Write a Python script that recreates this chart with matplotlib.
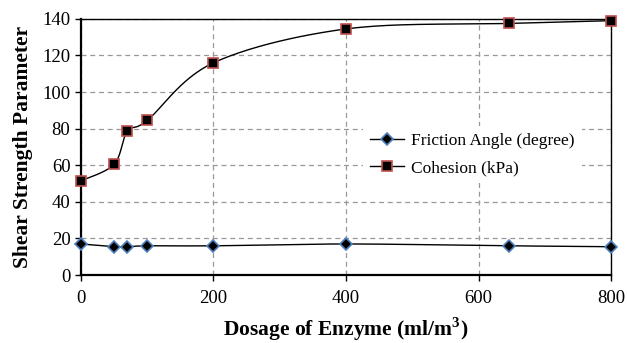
import numpy as np
import matplotlib
matplotlib.use("Agg")
import matplotlib.pyplot as plt
from matplotlib.lines import Line2D

dosage = [0, 50, 70, 100, 200, 400, 645, 800]
friction = [17, 15.5, 15.5, 16, 16, 17, 16, 15.5]
cohesion = [51.5, 60.5, 78.5, 84.5, 116, 134.5, 137.5, 139]
xticks = [0, 200, 400, 600, 800]
yticks = [0, 20, 40, 60, 80, 100, 120, 140]

plt.rcParams['font.family'] = ['Liberation Serif', 'DejaVu Serif']


def smooth(x, y, n=40, t=0.5):
    """Excel-like smoothed curve (Catmull-Rom style Bezier) for drawing the line."""
    x = np.asarray(x, float)
    y = np.asarray(y, float)
    xs, ys = [], []
    for i in range(len(x) - 1):
        p0 = np.array([x[max(i - 1, 0)], y[max(i - 1, 0)]])
        p1 = np.array([x[i], y[i]])
        p2 = np.array([x[i + 1], y[i + 1]])
        p3 = np.array([x[min(i + 2, len(x) - 1)], y[min(i + 2, len(x) - 1)]])
        c1 = p1 + (p2 - p0) * t / 3
        c2 = p2 - (p3 - p1) * t / 3
        s = np.linspace(0, 1, n)[:, None]
        pts = ((1 - s) ** 3) * p1 + 3 * ((1 - s) ** 2) * s * c1 + 3 * (1 - s) * s ** 2 * c2 + s ** 3 * p2
        xs.extend(pts[:, 0])
        ys.extend(pts[:, 1])
    return np.array(xs), np.array(ys)


fig = plt.figure(figsize=(6.27, 3.43), dpi=100)
ax = fig.add_axes([0.129, 0.198, 0.846, 0.747])

fx, fy = smooth(dosage, friction)
cx, cy = smooth(dosage, cohesion)
ax.plot(fx, fy, color='black', lw=1.0, zorder=3)
ax.plot(cx, cy, color='black', lw=1.0, zorder=3)
ax.plot(dosage, friction, linestyle='none', marker='D', ms=6, mfc='black',
        mec='#4F81BD', mew=1.2, zorder=4, clip_on=False)
ax.plot(dosage, cohesion, linestyle='none', marker='s', ms=7, mfc='black',
        mec='#C0504D', mew=1.2, zorder=4, clip_on=False)

ax.set_xlim(0, 800)
ax.set_ylim(0, 140)
ax.set_xticks(xticks)
ax.set_yticks(yticks)
ax.grid(True, color='#999999', linestyle=(0, (4, 3)), lw=0.9)
ax.set_axisbelow(True)
for s in ax.spines.values():
    s.set_color('black')
    s.set_linewidth(1.0)
ax.spines['left'].set_linewidth(1.6)
ax.spines['bottom'].set_linewidth(1.6)
ax.tick_params(axis='both', direction='out', length=4, width=1, labelsize=13.5,
               colors='black')
ax.tick_params(axis='x', pad=7)

ax.set_xlabel('Dosage of Enzyme (ml/m$^\\mathregular{3}$)', fontsize=15.5,
              fontweight='bold', labelpad=6)
ax.set_ylabel('Shear Strength Parameter', fontsize=15.5, fontweight='bold',
              labelpad=7)

handles = [
    Line2D([0], [0], color='black', lw=1.0, marker='D', ms=6, mfc='black',
           mec='#4F81BD', mew=1.2),
    Line2D([0], [0], color='black', lw=1.0, marker='s', ms=7, mfc='black',
           mec='#C0504D', mew=1.2),
]
leg = ax.legend(handles, ['Friction Angle (degree)', 'Cohesion (kPa)'],
                loc='center left', bbox_to_anchor=(0.515, 0.47),
                frameon=True, fancybox=False, edgecolor='none',
                facecolor='white', framealpha=1, fontsize=12.5,
                handlelength=2.0, handletextpad=0.4, labelspacing=0.6,
                borderpad=0.4)
leg.set_zorder(5)

fig.savefig('out.png', dpi=100)
